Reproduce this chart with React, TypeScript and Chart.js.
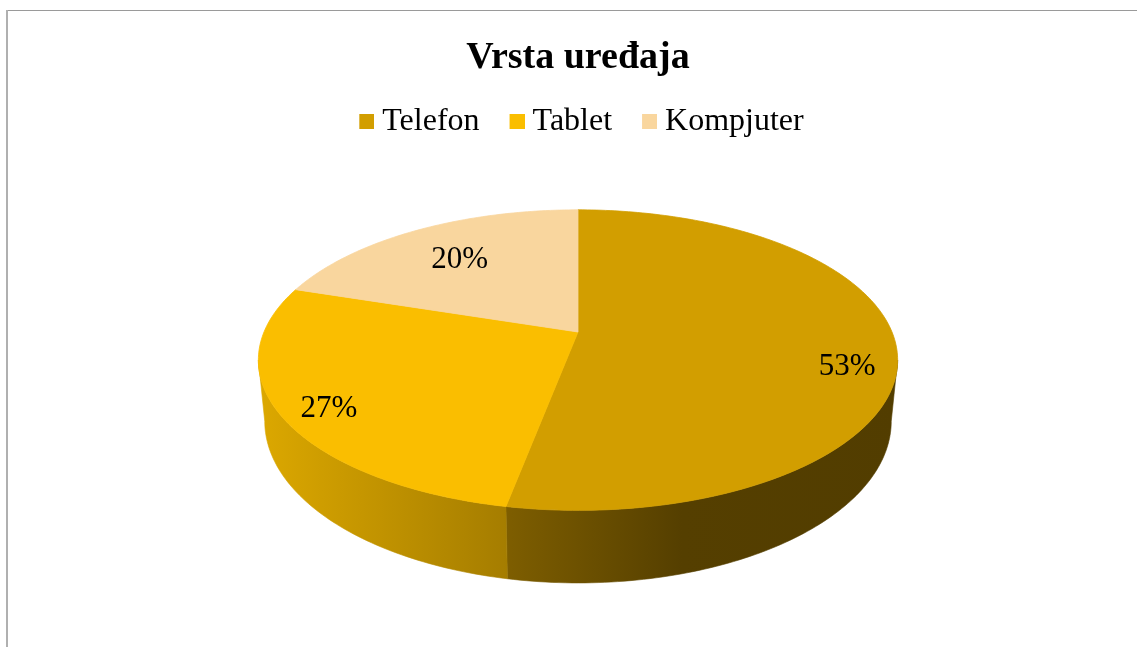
import React, { useEffect, useRef } from "react";
import { Chart, registerables } from "chart.js";

Chart.register(...registerables);

// ---------- data ----------
const CHART_TITLE = "Vrsta uređaja";
const CATEGORIES = ["Telefon", "Tablet", "Kompjuter"];
const SHARES = [53, 27, 20];

// ---------- styles ----------
const TOP_COLORS = ["#D29E00", "#FABE00", "#F9D69E"];
const SIDE_GRADIENTS: [number, string][][] = [
  [[0, "#7e5e00"], [0.45, "#553f00"], [1, "#523d00"]],
  [[0, "#dca800"], [1, "#a57d00"]],
  [[0, "#e2c28c"], [1, "#c9a873"]],
];
const LABEL_RADIUS = [0.85, 0.86, 0.71];
const LABEL_ANGLE_SHIFT_DEG = [9, -2, 0];
const LABEL_DY = 3;
const FONT_FAMILY = "'Liberation Serif', 'Times New Roman', Times, serif";
const CANVAS_W = 1137;
const CANVAS_H = 647;
// 3D projection of the pie disc (perspective tilt + thickness)
const GEO = { cy: 332, rx: 314, ry: 145, persp: 0.187, depth: 59, taper: 0.02 };

function project(cx: number, th: number, r: number, z: number): [number, number] {
  const u = r * Math.cos(th);
  const v = r * Math.sin(th);
  const w = 1 - GEO.persp * v;
  return [cx + (GEO.rx * u * (1 - GEO.taper * z)) / w, GEO.cy + (GEO.ry * v + GEO.depth * z) / w];
}

// legend marker: 15px square placed in the right half of a 30px-wide image
function makeMarker(color: string) {
  const c = document.createElement("canvas");
  c.width = 30;
  c.height = 15;
  const g = c.getContext("2d")!;
  g.fillStyle = color;
  g.fillRect(15, 0, 15, 15);
  return c;
}

const pie3d = {
  id: "pie3d",
  beforeDraw(chart: any) {
    const ctx = chart.ctx;
    ctx.save();
    ctx.fillStyle = "#9a9a9a";
    ctx.fillRect(6, 10, CANVAS_W - 6, 1);
    ctx.fillStyle = "#b0b0b0";
    ctx.fillRect(6, 10, 2, CANVAS_H - 10);
    ctx.restore();
  },
  beforeDatasetsDraw(chart: any) {
    const ctx = chart.ctx;
    const meta = chart.getDatasetMeta(0);
    const ca = chart.chartArea;
    const cx = (ca.left + ca.right) / 2;
    const silhouette = Math.asin(GEO.persp);
    const visA = silhouette;
    const visB = Math.PI - silhouette;
    ctx.save();
    // side walls
    meta.data.forEach((arc: any, i: number) => {
      const { startAngle, endAngle } = arc.getProps(["startAngle", "endAngle"], true);
      const a = Math.max(startAngle, visA);
      const b = Math.min(endAngle, visB);
      if (b <= a) return;
      const n = Math.max(8, Math.ceil(((b - a) * 180) / Math.PI));
      const pts: [number, number][] = [];
      for (let k = 0; k <= n; k++) pts.push(project(cx, a + ((b - a) * k) / n, 1, 0));
      for (let k = n; k >= 0; k--) pts.push(project(cx, a + ((b - a) * k) / n, 1, 1));
      let xmin = Infinity;
      let xmax = -Infinity;
      pts.forEach((p) => {
        xmin = Math.min(xmin, p[0]);
        xmax = Math.max(xmax, p[0]);
      });
      const g = ctx.createLinearGradient(xmin, 0, xmax, 0);
      SIDE_GRADIENTS[i].forEach(([o, c]) => g.addColorStop(o, c));
      ctx.beginPath();
      pts.forEach((p, k) => (k === 0 ? ctx.moveTo(p[0], p[1]) : ctx.lineTo(p[0], p[1])));
      ctx.closePath();
      ctx.fillStyle = g;
      ctx.fill();
      ctx.strokeStyle = g;
      ctx.lineWidth = 0.6;
      ctx.stroke();
    });
    // top faces
    meta.data.forEach((arc: any) => {
      const { startAngle, endAngle } = arc.getProps(["startAngle", "endAngle"], true);
      const n = Math.max(8, Math.ceil(((endAngle - startAngle) * 180) / Math.PI));
      ctx.beginPath();
      const c0 = project(cx, 0, 0, 0);
      ctx.moveTo(c0[0], c0[1]);
      for (let k = 0; k <= n; k++) {
        const p = project(cx, startAngle + ((endAngle - startAngle) * k) / n, 1, 0);
        ctx.lineTo(p[0], p[1]);
      }
      ctx.closePath();
      ctx.fillStyle = arc.options.backgroundColor;
      ctx.fill();
      ctx.strokeStyle = arc.options.backgroundColor;
      ctx.lineWidth = 0.8;
      ctx.stroke();
    });
    ctx.restore();
    return false;
  },
  afterDraw(chart: any) {
    const ctx = chart.ctx;
    const meta = chart.getDatasetMeta(0);
    const ca = chart.chartArea;
    const cx = (ca.left + ca.right) / 2;
    const data = chart.data.datasets[0].data as number[];
    const total = data.reduce((s, v) => s + v, 0);
    ctx.save();
    ctx.font = `31px ${FONT_FAMILY}`;
    ctx.fillStyle = "#000";
    ctx.textAlign = "center";
    ctx.textBaseline = "middle";
    meta.data.forEach((arc: any, i: number) => {
      const { startAngle, endAngle } = arc.getProps(["startAngle", "endAngle"], true);
      const mid = (startAngle + endAngle) / 2 + (LABEL_ANGLE_SHIFT_DEG[i] * Math.PI) / 180;
      const [x, y] = project(cx, mid, LABEL_RADIUS[i], 0);
      ctx.fillText(Math.round((data[i] / total) * 100) + "%", x, y + LABEL_DY);
    });
    ctx.restore();
  },
};

export default function App() {
  const ref = useRef<HTMLCanvasElement | null>(null);
  useEffect(() => {
    if (!ref.current) return;
    const baseGenerate = (Chart as any).overrides.pie.plugins.legend.labels.generateLabels;
    const chart = new Chart(ref.current, {
      type: "pie",
      data: {
        labels: CATEGORIES,
        datasets: [{ data: SHARES, backgroundColor: TOP_COLORS, borderWidth: 0 }],
      },
      options: {
        responsive: false,
        animation: false,
        devicePixelRatio: 1,
        events: [],
        layout: { padding: { left: 19, right: 0, top: 0, bottom: 0 } },
        plugins: {
          tooltip: { enabled: false },
          title: {
            display: true,
            text: CHART_TITLE,
            color: "#000",
            font: { family: FONT_FAMILY, size: 38, weight: "bold" },
            padding: { top: 35, bottom: 2 },
          },
          legend: {
            display: true,
            position: "top",
            labels: {
              color: "#000",
              usePointStyle: true,
              pointStyleWidth: 14,
              boxHeight: 15,
              padding: 23,
              font: { family: FONT_FAMILY, size: 32 },
              generateLabels: (ch: any) =>
                baseGenerate(ch).map((item: any) => ({
                  ...item,
                  pointStyle: makeMarker(item.fillStyle),
                  lineWidth: 0,
                })),
            },
          },
        },
      },
      plugins: [pie3d],
    } as any);
    return () => chart.destroy();
  }, []);
  return (
    <div style={{ position: "fixed", left: 0, top: 0, width: CANVAS_W, height: CANVAS_H, background: "#fff" }}>
      <canvas ref={ref} width={CANVAS_W} height={CANVAS_H} style={{ display: "block" }} />
    </div>
  );
}
